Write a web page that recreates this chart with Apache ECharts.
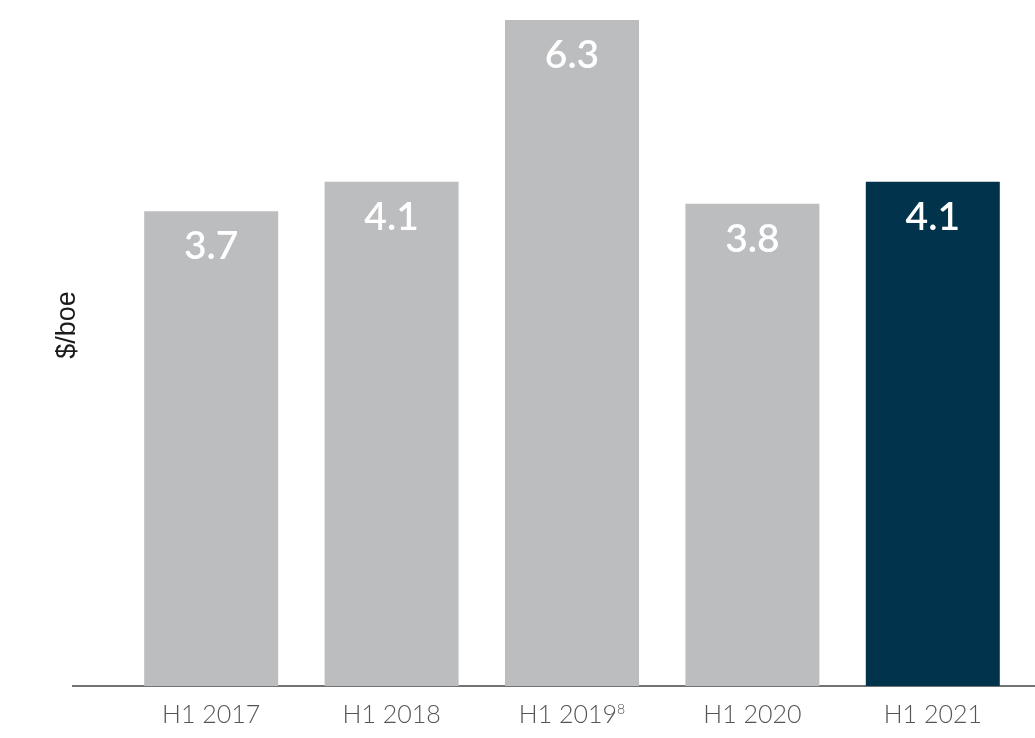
<!DOCTYPE html>
<html>
<head>
<meta charset="utf-8">
<script src="https://cdn.jsdelivr.net/npm/echarts@6/dist/echarts.min.js"></script>
<style>
  html, body { margin: 0; padding: 0; background: #fff; }
  #chartsBox1 { width: 1035px; height: 738px; }
</style>
</head>
<body>
<div id="chartsBox1"></div>
<script>
var categories = ['H1 2017', 'H1 2018', 'H1 2019', 'H1 2020', 'H1 2021'];
var footnotes = ['', '', '8', '', ''];
var values = [3.7, 4.1, 6.3, 3.8, 4.1];
var color = ['#bcbdbf', '#bcbdbf', '#bcbdbf', '#bcbdbf', '#01344c'];
// the source chart's bars do not start at zero: its baseline sits at about -2.76
var axisFloor = -2.76;

var option1 = {
    animation: false,
    grid: {
        left: 121,
        right: 12,
        top: 20,
        bottom: 52
    },
    graphic: [
        {
            type: 'line',
            shape: { x1: 72, y1: 686, x2: 1035, y2: 686 },
            style: { stroke: '#444', lineWidth: 1.5 }
        },
        {
            type: 'text',
            x: 68,
            y: 325,
            rotation: Math.PI / 2,
            style: {
                text: '$/boe',
                fill: '#1a1a1a',
                fontSize: 27,
                fontFamily: 'Liberation Sans',
                align: 'center',
                verticalAlign: 'middle'
            }
        }
    ],
    xAxis: {
        type: 'category',
        data: categories,
        axisLine: { show: false },
        axisTick: { show: false },
        axisLabel: {
            interval: 0,
            margin: 16,
            color: '#555',
            fontSize: 25,
            fontFamily: 'Lato',
            fontWeight: 300,
            formatter: function (v, i) {
                return footnotes[i] ? v + '{sup|' + footnotes[i] + '}' : v;
            },
            rich: {
                sup: {
                    fontSize: 14,
                    fontFamily: 'Lato',
                    fontWeight: 300,
                    color: '#555',
                    verticalAlign: 'top',
                    padding: [0, 0, 10, 0]
                }
            }
        }
    },
    yAxis: {
        type: 'value',
        min: 0,
        max: 6.3 - axisFloor,
        show: false,
        splitLine: { show: false }
    },
    series: [
        {
            type: 'bar',
            barWidth: 134,
            data: values.map(function (v, i) {
                return { value: v - axisFloor, itemStyle: { color: color[i] } };
            }),
            label: {
                show: true,
                position: 'insideTop',
                distance: 16,
                color: '#fff',
                fontSize: 39,
                fontFamily: 'Lato',
                fontWeight: 600,
                formatter: function (p) {
                    return values[p.dataIndex].toFixed(1);
                }
            }
        }
    ]
};

var chartsBox1 = echarts.init(document.getElementById('chartsBox1'));
chartsBox1.setOption(option1);
</script>
</body>
</html>
